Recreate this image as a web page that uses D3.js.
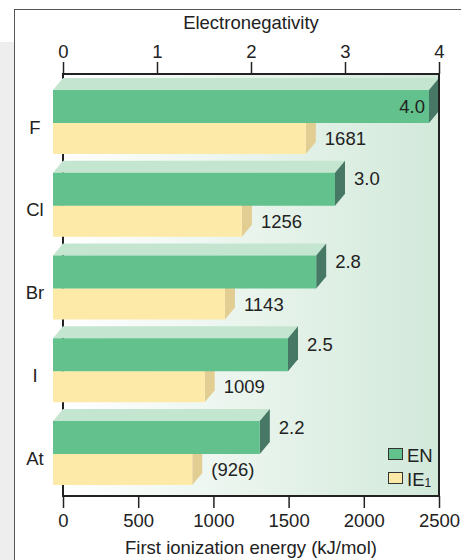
<!DOCTYPE html>
<html><head><meta charset="utf-8">
<script src="https://cdn.jsdelivr.net/npm/d3@7"></script>
<style>body{margin:0;background:#fff}svg{display:block;font-family:"Liberation Sans",Arial,sans-serif}</style>
</head><body><svg id="c" width="461" height="560"></svg>
<script>
const categories = ["F", "Cl", "Br", "I", "At"];
const enValues = [4.0, 3.0, 2.8, 2.5, 2.2];
const ieValues = [1681, 1256, 1143, 1009, 926];
const ieLabels = ["1681", "1256", "1143", "1009", "(926)"];
const enTicks = [0, 1, 2, 3, 4];
const ieTicks = [0, 500, 1000, 1500, 2000, 2500];

const FS = 18.5;
const svg = d3.select("#c");
const X0 = 63, X1 = 439, YT = 74, YB = 496;
const DX = 10, DY = 12, HG = 33, HY = 31;
const xEN = d3.scaleLinear().domain([0, 4]).range([X0, X1]);
const xIE = d3.scaleLinear().domain([0, 2500]).range([X0, X1]);
const y = d3.scalePoint().domain(categories).range([90, 421]);

// page background
svg.append("rect").attr("x",0).attr("y",42).attr("width",14).attr("height",518).attr("fill","#eeeeee");
svg.append("rect").attr("x",14.5).attr("y",9.5).attr("width",470).attr("height",560).attr("fill","#fff").attr("stroke","#555").attr("stroke-width",1);

// plot gradient
const defs = svg.append("defs");
const g = defs.append("linearGradient").attr("id","bg").attr("x1","0").attr("x2","1").attr("y1","0").attr("y2","0");
g.append("stop").attr("offset","0").attr("stop-color","#ffffff");
g.append("stop").attr("offset","1").attr("stop-color","#d2e9da");
svg.append("rect").attr("x",X0).attr("y",YT).attr("width",X1-X0).attr("height",YB-YT).attr("fill","url(#bg)");

// left axis line (behind bars)
svg.append("line").attr("x1",X0).attr("x2",X0).attr("y1",YT).attr("y2",YB).attr("stroke","#222").attr("stroke-width",2);

function bar3d(sel, xBack, yTop, h, cFront, cTop, cSide) {
  const xl = X0 - DX, xr = xBack - DX;
  sel.append("polygon").attr("points", [[xl,yTop],[X0,yTop-DY],[xBack,yTop-DY],[xr,yTop]].join(" ")).attr("fill", cTop);
  sel.append("polygon").attr("points", [[xr,yTop],[xBack,yTop-DY],[xBack,yTop+h-DY],[xr,yTop+h]].join(" ")).attr("fill", cSide);
  sel.append("rect").attr("x", xl).attr("y", yTop).attr("width", xr - xl).attr("height", h).attr("fill", cFront);
}

const txt = (x, yy, s, anchor) => svg.append("text").attr("x", x).attr("y", yy)
  .attr("text-anchor", anchor || "start").attr("font-size", FS).attr("fill", "#222")
  .attr("dominant-baseline", "central").text(s);

categories.forEach((c, i) => {
  const yt = y(c);
  const grp = svg.append("g");
  bar3d(grp, xIE(ieValues[i]), yt + HG, HY, "#feeaa8", "#fdf1c8", "#e2cd93");
  bar3d(grp, xEN(enValues[i]), yt, HG, "#63c18d", "#c4e5cf", "#467865");
});

// frame
svg.append("line").attr("x1",X0-1).attr("x2",X1+1).attr("y1",YT).attr("y2",YT).attr("stroke","#222").attr("stroke-width",2);
svg.append("line").attr("x1",X0-1).attr("x2",X1+1).attr("y1",YB).attr("y2",YB).attr("stroke","#222").attr("stroke-width",2);
svg.append("line").attr("x1",X1).attr("x2",X1).attr("y1",YT).attr("y2",YB).attr("stroke","#222").attr("stroke-width",2);

// axes
const topAx = d3.axisTop(xEN).tickValues(enTicks).tickSize(12).tickPadding(4).tickFormat(d3.format("d"));
const botAx = d3.axisBottom(xIE).tickValues(ieTicks).tickSize(12).tickPadding(6).tickFormat(d3.format("d"));
const ta = svg.append("g").attr("transform", `translate(0,${YT})`).call(topAx);
const ba = svg.append("g").attr("transform", `translate(0,${YB})`).call(botAx);
[ta, ba].forEach(a => {
  a.select(".domain").remove();
  a.selectAll(".tick line").attr("stroke", "#222").attr("stroke-width", 1.5);
  a.selectAll(".tick text").attr("font-size", FS).attr("fill", "#222").attr("font-family", '"Liberation Sans",Arial,sans-serif');
});
svg.append("text").attr("x", 251).attr("y", 29).attr("text-anchor","middle").attr("font-size",FS).attr("fill","#222").text("Electronegativity");
svg.append("text").attr("x", 251).attr("y", 554).attr("text-anchor","middle").attr("font-size",FS).attr("fill","#222").text("First ionization energy (kJ/mol)");

// category labels and values
categories.forEach((c, i) => {
  txt(35, y(c) + HG + 4, c, "middle");
  if (i === 0) txt(xEN(enValues[i]) - DX - 4, y(c) + HG / 2, enValues[i].toFixed(1), "end");
  else txt(xEN(enValues[i]) + 9, y(c) + 6, enValues[i].toFixed(1), "start");
  txt(xIE(ieValues[i]) + 9, y(c) + HG + HY / 2, ieLabels[i], "start");
});

// legend
svg.append("rect").attr("x",388.5).attr("y",448.5).attr("width",14).attr("height",11).attr("fill","#63c18d").attr("stroke","#333");
svg.append("rect").attr("x",388.5).attr("y",472.5).attr("width",14).attr("height",11).attr("fill","#feeaa8").attr("stroke","#333");
txt(407, 455, "EN", "start");
const ie = svg.append("text").attr("x", 407).attr("y", 479).attr("dominant-baseline","central").attr("font-size",FS).attr("fill","#222");
ie.append("tspan").text("IE");
ie.append("tspan").attr("font-size", 12).attr("dy", 4).text("1");
</script></body></html>
